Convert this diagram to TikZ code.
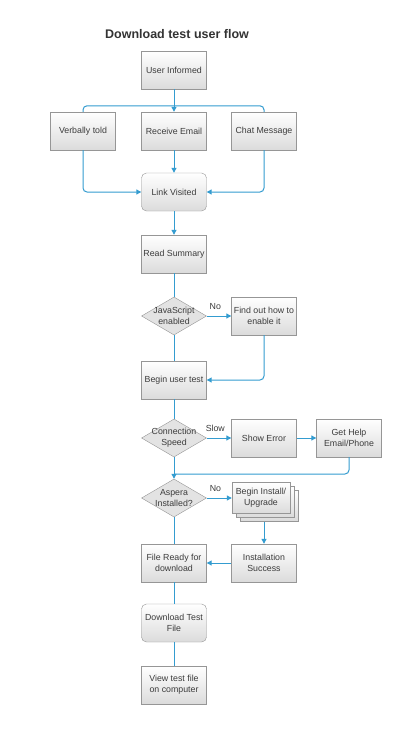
\documentclass[tikz,border=0pt]{standalone}
\usepackage{fontspec}
\setmainfont{Liberation Sans}
\usetikzlibrary{shapes.geometric}
\usetikzlibrary{arrows.meta}

\definecolor{linkblue}{RGB}{52,156,208}
\definecolor{boxline}{RGB}{150,150,150}
\definecolor{boxtext}{RGB}{60,60,60}

\begin{document}
\begin{tikzpicture}[x=1pt,y=-1pt,
  box/.style={rectangle,draw=boxline,top color=white,bottom color=black!14,
    minimum width=65pt,minimum height=38pt,align=center,
    inner sep=1pt,text=boxtext,font=\fontsize{8.8}{11}\selectfont},
  roundbox/.style={box,rounded corners=5pt},
  decision/.style={diamond,draw=boxline,fill=black!11,minimum width=65pt,
    minimum height=38pt,inner sep=0pt},
  dtext/.style={align=center,text=boxtext,font=\fontsize{8.8}{11}\selectfont},
  flow/.style={draw=linkblue,line width=1pt},
  arr/.style={flow,-{Triangle[length=5pt,width=5pt]}},
  tag/.style={text=boxtext,font=\fontsize{8.8}{10}\selectfont}]
\useasboundingbox [fill=white] (0,0) rectangle (416,741);

\node (title) at (177,34) {\fontsize{12.5}{14}\selectfont\bfseries\color{black!80}Download test user flow};

% top part
\node (informed) [box] at (174,70) {User Informed};
\node (verbal) [box] at (83,131) {Verbally told};
\node (email) [box] at (174,131) {Receive Email};
\node (chat) [box] at (264,131) {Chat Message};
\node (link) [roundbox] at (174,192) {Link Visited};
\node (summary) [box] at (174,254) {Read Summary};

\draw [flow,rounded corners=4pt] (verbal.north) -- ++(0,-6) -| (chat.north);
\draw [arr] (informed) -- (email);
\draw [arr] (email) -- (link);
\draw [arr,rounded corners=4pt] (verbal.south) |- (link.west);
\draw [arr,rounded corners=4pt] (chat.south) |- (link.east);
\draw [arr] (link) -- (summary);

% javascript check
\node (js) [decision,label={[dtext]center:JavaScript\\enabled}] at (174,316) {};
\node (findout) [box] at (264,316) {Find out how to\\enable it};
\node (begin) [box] at (174,380) {Begin user test};

\draw [flow] (summary) -- (js);
\draw [arr] (js) -- (findout) node[tag,above=3pt,pos=0.35] {No};
\draw [flow] (js) -- (begin);
\draw [arr,rounded corners=4pt] (findout.south) |- (begin.east);

% connection speed
\node (speed) [decision,label={[dtext]center:Connection\\Speed}] at (174,438) {};
\node (error) [box] at (264,438) {Show Error};
\node (help) [box] at (349,438) {Get Help\\Email/Phone};
\coordinate (merge) at (174,474);

\draw [flow] (begin) -- (speed);
\draw [arr] (speed) -- (error) node[tag,above=3pt,pos=0.35] {Slow};
\draw [arr] (error) -- (help);
\draw [flow,rounded corners=4pt] (help.south) |- (merge);

% aspera
\node (aspera) [decision,label={[dtext]center:Aspera\\Installed?}] at (174,498) {};
\node (install3) [box,minimum width=58pt,minimum height=31pt] at (269,506) {};
\node (install2) [box,minimum width=58pt,minimum height=31pt] at (265,502) {};
\node (install) [box,minimum width=58pt,minimum height=31pt] at (261,498) {Begin Install/\\Upgrade};
\node (success) [box] at (264,563) {Installation\\Success};
\node (ready) [box] at (174,563) {File Ready for\\download};

\draw [arr] (speed) -- (aspera);
\draw [arr] (aspera) -- (install) node[tag,above=3pt,pos=0.35] {No};
\draw [arr] (install3.south -| success.north) -- (success.north);
\draw [arr] (success) -- (ready);
\draw [flow] (aspera) -- (ready);

% download
\node (download) [roundbox] at (174,623) {Download Test\\File};
\node (view) [box] at (174,685) {View test file\\on computer};

\draw [flow] (ready) -- (download);
\draw [flow] (download) -- (view);
\end{tikzpicture}
\end{document}
